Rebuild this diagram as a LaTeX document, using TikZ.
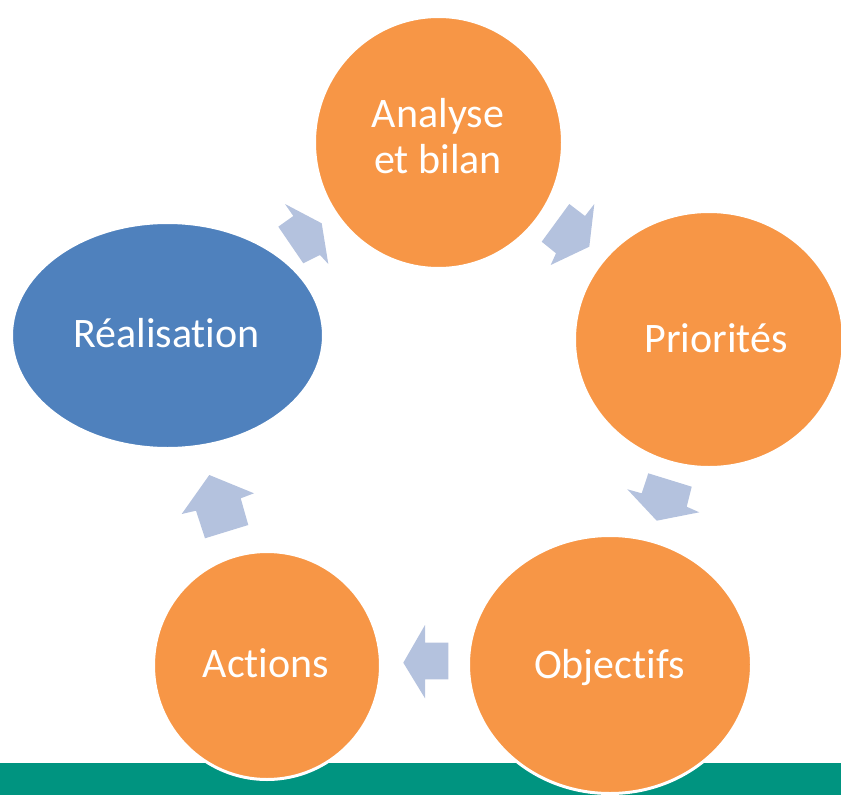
\documentclass[tikz,border=0pt]{standalone}
\usepackage{fontspec}
\setmainfont[Ligatures={NoCommon,NoContextual}]{Carlito}
\usetikzlibrary{shapes.geometric}
\definecolor{orng}{RGB}{247,150,70}
\definecolor{blu}{RGB}{79,129,189}
\definecolor{arrcol}{RGB}{180,194,222}
\definecolor{barcol}{RGB}{0,148,128}
\tikzset{
  bubble/.style={ellipse, draw=white, line width=3pt, inner sep=0pt},
  lbl/.style={text=white, font=\fontsize{42}{48}\selectfont, inner sep=0pt, anchor=base},
  blockarrow/.style={fill=arrcol}
}
\begin{document}
\begin{tikzpicture}[x=1pt,y=-1pt]
\useasboundingbox (0,0) rectangle (841,795);
\clip (0,0) rectangle (841,795);
\fill[barcol] (0,763) rectangle (841,795);
% bubbles
\node[bubble, fill=orng, minimum width=248pt, minimum height=252pt] (analyse) at (438.5,142.5) {};
\node[bubble, fill=orng, minimum width=269pt, minimum height=256pt] (priorites) at (709,339.5) {};
\node[bubble, fill=orng, minimum width=283pt, minimum height=258pt] (objectifs) at (610,664.5) {};
\node[bubble, fill=orng, minimum width=227pt, minimum height=228pt] (actions) at (267,665.5) {};
\node[bubble, fill=blu, minimum width=312pt, minimum height=226pt] (realisation) at (167.5,335.5) {};
% labels
\node[lbl] (t1) at (438,127) {Analyse};
\node[lbl] (t1b) at (438,173) {et bilan};
\node[lbl] (t2) at (716,352) {Priorités};
\node[lbl] (t3) at (609.5,678) {Objectifs};
\node[lbl] (t4) at (266,677) {Actions};
\node[lbl] (t5) at (166.5,347) {Réalisation};
% block arrows
\fill[blockarrow] (278.3,226.7) -- (293.3,216) -- (285,204) -- (321.7,223.3) -- (328.3,264) -- (320,255) -- (303.3,263.3) -- cycle;
\fill[blockarrow] (569.3,204) -- (585,216) -- (594.3,204) -- (589.3,246.7) -- (550.7,265) -- (556,253.3) -- (541.7,241.7) -- cycle;
\fill[blockarrow] (648.3,473.3) -- (691.7,486.7) -- (686.7,506.7) -- (699.3,512.3) -- (656.7,520.7) -- (627.3,489.3) -- (641.7,493.3) -- cycle;
\fill[blockarrow] (448.3,642.7) -- (448.3,679.3) -- (425,679.3) -- (425,698.3) -- (403.3,662.7) -- (425,625) -- (425,642.7) -- cycle;
\fill[blockarrow] (209.3,475) -- (254,493.3) -- (240.7,498.3) -- (248.3,525) -- (205,538.3) -- (196,510.7) -- (181.7,514) -- cycle;
\end{tikzpicture}
\end{document}
